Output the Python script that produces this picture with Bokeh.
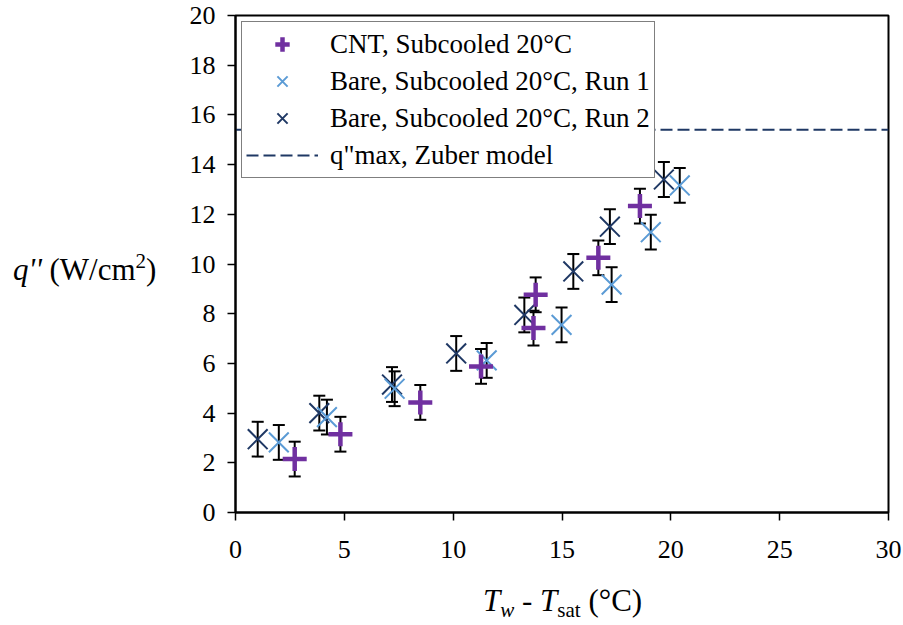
from bokeh.plotting import figure
from bokeh.models import (Range1d, Whisker, ColumnDataSource, Legend,
                          LegendItem, TeeHead, FixedTicker, Div)
from bokeh.layouts import row, column
from bokeh.embed import file_html
from bokeh.resources import INLINE

# ---------------- data ----------------
cnt_x = [2.72, 4.82, 8.49, 11.28, 13.69, 13.79, 16.67, 18.58]
cnt_y = [2.15, 3.15, 4.43, 5.88, 7.42, 8.76, 10.25, 12.33]
cnt_err = [0.7, 0.7, 0.7, 0.7, 0.7, 0.7, 0.7, 0.7]

run1_x = [1.99, 4.20, 7.31, 11.54, 14.98, 17.28, 19.08, 20.41]
run1_y = [2.82, 3.84, 4.98, 6.12, 7.55, 9.17, 11.28, 13.16]
run1_err = [0.7, 0.7, 0.7, 0.7, 0.7, 0.7, 0.7, 0.7]

run2_x = [1.02, 3.85, 7.19, 10.14, 13.27, 15.52, 17.20, 19.68]
run2_y = [2.95, 4.00, 5.15, 6.40, 7.95, 9.70, 11.50, 13.40]
run2_err = [0.7, 0.7, 0.7, 0.7, 0.7, 0.7, 0.7, 0.7]

zuber_q = 15.4

x_ticks = [0, 5, 10, 15, 20, 25, 30]
y_ticks = [0, 2, 4, 6, 8, 10, 12, 14, 16, 18, 20]

series_labels = ["CNT, Subcooled 20°C", "Bare, Subcooled 20°C, Run 1",
                 "Bare, Subcooled 20°C, Run 2", "q\"max, Zuber model"]

# ---------------- layout ----------------
W, H = 903, 625
YLAB_W = 180          # width of the y-title column
XLAB_H = 45           # height of the x-title row
FIG_W, FIG_H = W - YLAB_W, H - XLAB_H
L, R, T = 55, 15, 15
B = FIG_H - T - 497
FONT = "Liberation Serif"

C_CNT = "#7030A0"
C_RUN1 = "#5B9BD5"
C_RUN2 = "#1F3864"

p = figure(width=FIG_W, height=FIG_H, output_backend="svg", toolbar_location=None,
           x_range=Range1d(x_ticks[0], x_ticks[-1]),
           y_range=Range1d(y_ticks[0], y_ticks[-1]),
           min_border_left=L, min_border_right=R,
           min_border_top=T, min_border_bottom=B, margin=0)
p.background_fill_color = "white"
p.border_fill_color = "white"
p.outline_line_color = "black"
p.outline_line_width = 2
p.xgrid.visible = False
p.ygrid.visible = False

for ax, ticks in ((p.xaxis, x_ticks), (p.yaxis, y_ticks)):
    ax.ticker = FixedTicker(ticks=ticks)
    ax.axis_line_color = "black"
    ax.axis_line_width = 2
    ax.major_tick_line_color = "black"
    ax.major_tick_line_width = 1.5
    ax.major_tick_out = 8
    ax.major_tick_in = 0
    ax.minor_tick_line_color = None
    ax.major_label_text_font = FONT
    ax.major_label_text_font_size = "26px"
    ax.major_label_text_color = "black"
p.xaxis.major_label_standoff = 20
p.yaxis.major_label_standoff = 12


def err_src(xs, ys, es):
    return ColumnDataSource(dict(x=xs, y=ys,
                                 upper=[y + e for y, e in zip(ys, es)],
                                 lower=[y - e for y, e in zip(ys, es)]))


def add_whisker(src):
    w = Whisker(base="x", upper="upper", lower="lower", source=src,
                line_color="black", line_width=2,
                upper_head=TeeHead(size=12, line_color="black", line_width=2),
                lower_head=TeeHead(size=12, line_color="black", line_width=2))
    p.add_layout(w)


s_run2 = err_src(run2_x, run2_y, run2_err)
s_run1 = err_src(run1_x, run1_y, run1_err)
s_cnt = err_src(cnt_x, cnt_y, cnt_err)
for s in (s_run2, s_run1, s_cnt):
    add_whisker(s)

zline = p.line(x=[x_ticks[0], x_ticks[-1]], y=[zuber_q, zuber_q],
               line_color=C_RUN2, line_width=2, line_dash="12 5")

r_run2 = p.scatter("x", "y", source=s_run2, marker="x", size=28,
                   line_color=C_RUN2, line_width=2)
r_run1 = p.scatter("x", "y", source=s_run1, marker="x", size=28,
                   line_color=C_RUN1, line_width=2)
r_cnt = p.scatter("x", "y", source=s_cnt, marker="cross", size=24,
                  line_color=C_CNT, line_width=4.5)

legend = Legend(items=[LegendItem(label=series_labels[0], renderers=[r_cnt]),
                       LegendItem(label=series_labels[1], renderers=[r_run1]),
                       LegendItem(label=series_labels[2], renderers=[r_run2]),
                       LegendItem(label=series_labels[3], renderers=[zline])],
                location="top_left", margin=6, padding=4, spacing=1,
                glyph_height=36, label_height=36, glyph_width=72,
                label_standoff=12,
                label_text_font=FONT, label_text_font_size="27px",
                label_text_color="black",
                border_line_color="black", border_line_width=1.5,
                background_fill_color="white", background_fill_alpha=1.0)
p.add_layout(legend)

# ------------- axis titles (mixed styles, as HTML text) -------------
BASE = ("font-family:'Liberation Serif','Times New Roman',serif;font-size:31px;"
        "line-height:31px;color:black;white-space:nowrap;")
SUB = "font-size:21px;line-height:21px;vertical-align:-6px;"
ylab_html = (f'<div style="{BASE}margin-top:254px;margin-left:13px;">'
             '<i>q\'\'</i> (W/cm'
             '<span style="position:relative;top:-12px;font-size:21px;">2</span>)'
             '</div>')
xlab_html = (f'<div style="{BASE}margin-top:5px;margin-left:483px;">'
             f'<i>T</i><span style="{SUB}"><i>w</i></span>'
             f' - <i>T</i><span style="{SUB}">sat</span>'
             ' (°C)</div>')

ydiv = Div(text=ylab_html, width=YLAB_W, height=FIG_H, margin=0)
xdiv = Div(text=xlab_html, width=W, height=XLAB_H, margin=0)

layout = column(row(ydiv, p, margin=0, spacing=0), xdiv, margin=0, spacing=0)

open("out.html", "w").write(file_html(layout, INLINE))
